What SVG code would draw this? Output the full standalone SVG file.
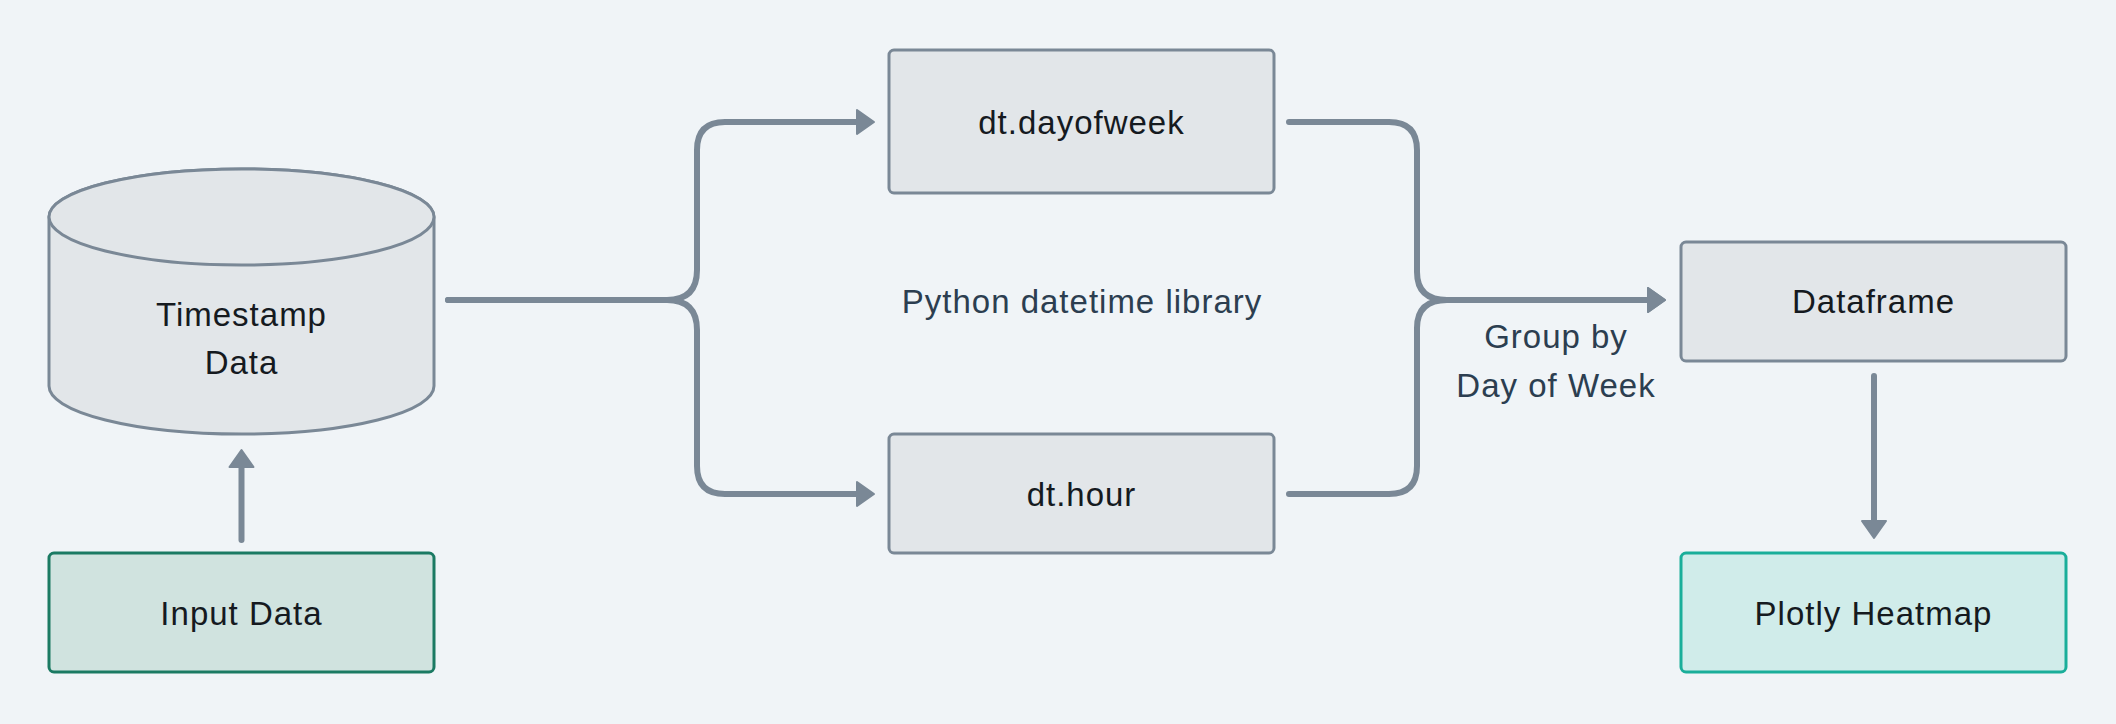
<svg xmlns="http://www.w3.org/2000/svg" width="2116" height="724" viewBox="0 0 2116 724">
<defs>
<style>
.bg{fill:#f0f4f7}
.node{fill:#e2e6e9;stroke:#7a8896;stroke-width:3}
.start{fill:#d0e3df;stroke:#1b7a63;stroke-width:3}
.end{fill:#d0ecea;stroke:#1aae9a;stroke-width:3}
.t{font-family:"Liberation Sans",Arial,sans-serif;font-size:33px;letter-spacing:1px;fill:#151a1f;text-anchor:middle}
.lbl{font-family:"Liberation Sans",Arial,sans-serif;font-size:33px;letter-spacing:1px;fill:#2c3e50;text-anchor:middle}
.edge{fill:none;stroke:#7a8896;stroke-width:6;stroke-linecap:round;stroke-linejoin:round}
</style>
<marker id="ah" markerUnits="userSpaceOnUse" markerWidth="20" markerHeight="28" refX="1" refY="13" orient="auto" overflow="visible">
<path d="M0,1 L17,13 L0,25 Z" fill="#7a8896" stroke="#7a8896" stroke-width="2" stroke-linejoin="round"/>
</marker>
</defs>
<rect class="bg" x="0" y="0" width="2116" height="724"/>
<g id="connectors">
<path class="edge" d="M448,300 H667 Q697,300 697,270 V150 Q697,122 725,122 H858" marker-end="url(#ah)"/>
<path class="edge" d="M448,300 H667 Q697,300 697,330 V466 Q697,494 725,494 H858" marker-end="url(#ah)"/>
<path class="edge" d="M1289,122 H1389 Q1417,122 1417,150 V272 Q1417,300 1447,300 H1649" marker-end="url(#ah)"/>
<path class="edge" d="M1289,494 H1389 Q1417,494 1417,466 V328 Q1417,300 1447,300 H1649" marker-end="url(#ah)"/>
<path class="edge" d="M241.5,540 V466" marker-end="url(#ah)"/>
<path class="edge" d="M1874,376 V522" marker-end="url(#ah)"/>
</g>
<g id="timestamp">
<path class="node" d="M49,217 V386 A192.5,48 0 0 0 434,386 V217 A192.5,48 0 0 0 49,217 Z"/>
<ellipse class="node" cx="241.5" cy="217" rx="192.5" ry="48"/>
<text class="t" x="241.5" y="326">Timestamp</text>
<text class="t" x="241.5" y="374">Data</text>
</g>
<g id="input">
<rect class="start" x="49" y="553" width="385" height="119" rx="5"/>
<text class="t" x="241.5" y="625">Input Data</text>
</g>
<g id="dayofweek">
<rect class="node" x="889" y="50" width="385" height="143" rx="5"/>
<text class="t" x="1081.5" y="134">dt.dayofweek</text>
</g>
<g id="hour">
<rect class="node" x="889" y="434" width="385" height="119" rx="5"/>
<text class="t" x="1081.5" y="506">dt.hour</text>
</g>
<g id="dataframe">
<rect class="node" x="1681" y="242" width="385" height="119" rx="5"/>
<text class="t" x="1873.5" y="313">Dataframe</text>
</g>
<g id="heatmap">
<rect class="end" x="1681" y="553" width="385" height="119" rx="5"/>
<text class="t" x="1873.5" y="625">Plotly Heatmap</text>
</g>
<g id="labels">
<text class="lbl" x="1082" y="313">Python datetime library</text>
<text class="lbl" x="1556" y="348">Group by</text>
<text class="lbl" x="1556" y="397">Day of Week</text>
</g>
</svg>
